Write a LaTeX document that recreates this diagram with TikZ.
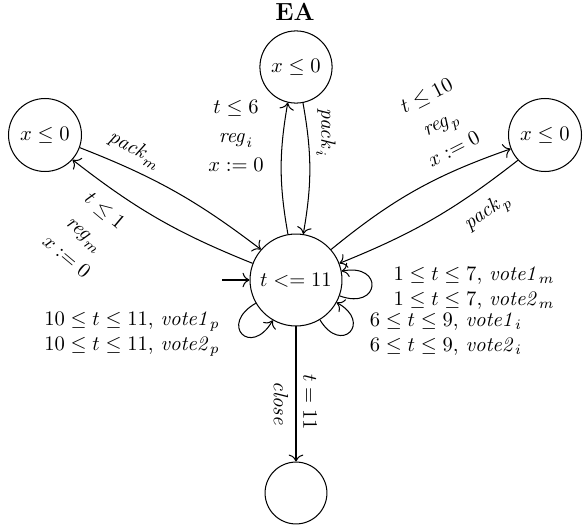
\documentclass[tikz,border=0pt]{standalone}
\usetikzlibrary{arrows.meta}
\begin{document}
\begin{tikzpicture}[x=0.485pt,y=-0.485pt,
  >={To[scale=1.25]},
  state/.style={draw,circle,inner sep=0pt,line width=0.5pt},
  lbl/.style={inner sep=1pt,align=center},
  votelbl/.style={inner sep=1pt,align=center,font={\fontsize{10}{12.2}\selectfont}},
  edgeline/.style={->,line width=0.5pt}]
\useasboundingbox (0,0) rectangle (583,527);
\node[state,minimum size=44.6pt] (C) at (296,280) {$t <= 11$};
\node[state,minimum size=35pt] (T) at (296,67) {$x \leq 0$};
\node[state,minimum size=35.4pt] (L) at (45,135) {$x \leq 0$};
\node[state,minimum size=35.4pt] (R) at (545,135) {$x \leq 0$};
\node[state,minimum size=30pt] (B) at (296,493) {};
\node[font={\fontsize{12}{14}\selectfont\bfseries}] (EA) at (295,12) {EA};
\coordinate (init) at (222,280);
\draw[edgeline] (init) -- (C);
\draw[edgeline] (C.100) to[bend left=10] (T.-103);
\draw[edgeline] (T.-79) to[bend left=10] (C.81);
\draw[edgeline] (L.-20) to[bend left=8] (C.139);
\draw[edgeline] (C.159) to[bend left=8] (L.-42);
\draw[edgeline] (C.41) to[bend left=10] (R.-158);
\draw[edgeline] (R.-137) to[bend left=8] (C.21);
\draw[edgeline] (C) -- (B);
\draw[edgeline] (C.-20) to[out=-20,in=11,distance=21pt] (C.11);
\draw[edgeline] (C.-59) to[out=-59,in=-29,distance=20pt] (C.-29);
\draw[edgeline] (C.-150) to[out=-150,in=-120,distance=21pt] (C.-120);
\node[lbl] (lT) at (236,136) {$t \leq 6$\\[2pt]$\mathit{reg}_i$\\[2pt]$x := 0$};
\node[lbl,rotate=-90] (lTi) at (326,133) {$\mathit{pack}_i$};
\node[lbl,rotate=-28] (lLm) at (135,150) {$\mathit{pack}_m$};
\node[lbl,rotate=-40] (lLr) at (86,233) {$t \leq 1$\\[2.5pt]$\mathit{reg}_m$\\[2.5pt]$x := 0$};
\node[lbl,rotate=27] (lRr) at (440,122) {$t \leq 10$\\[2.5pt]$\mathit{reg}_p$\\[2.5pt]$x := 0$};
\node[lbl,rotate=35] (lRp) at (488,213) {$\mathit{pack}_p$};
\node[votelbl] (lv1) at (474,288) {$1 \leq t \leq 7$, $\mathit{vote1}_m$\\$1 \leq t \leq 7$, $\mathit{vote2}_m$};
\node[votelbl] (lv2) at (446,334) {$6 \leq t \leq 9$, $\mathit{vote1}_i$\\$6 \leq t \leq 9$, $\mathit{vote2}_i$};
\node[votelbl] (lv3) at (132,334) {$10 \leq t \leq 11$, $\mathit{vote1}_p$\\$10 \leq t \leq 11$, $\mathit{vote2}_p$};
\node[lbl,rotate=-90] (lt11) at (310,402) {$t = 11$};
\node[lbl,rotate=-90] (lclose) at (281,404) {$\mathit{close}$};
\end{tikzpicture}
\end{document}
